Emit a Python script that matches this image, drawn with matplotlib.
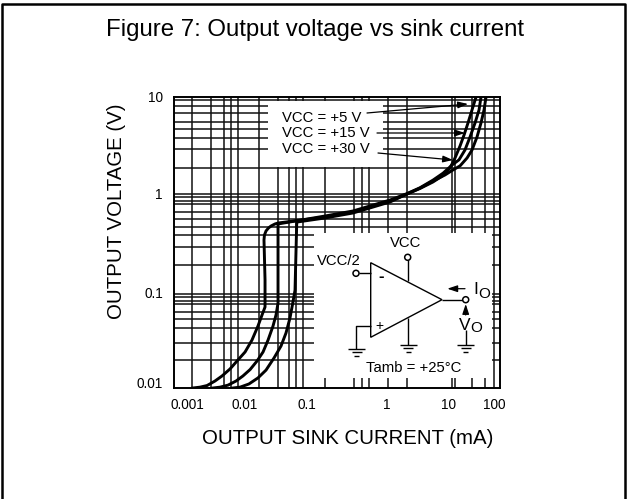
import matplotlib
matplotlib.use('Agg')
import matplotlib.pyplot as plt
from matplotlib.patches import Rectangle, Circle, Polygon

plt.rcParams['font.family'] = ['Liberation Sans', 'DejaVu Sans']

W, H = 629, 499

# grid lines (they are not quite regular)
grid_x = [0.00189, 0.00369, 0.00585, 0.00736, 0.0096, 0.0201, 0.0394, 0.0581, 0.0751, 0.0962,
          0.207, 0.577, 0.764, 0.98, 1.91, 3.75, 18.5, 20.5, 37.2, 58.9, 80.9]
grid_y = [9.31, 8.07, 6.84, 5.52, 4.68, 3.78, 2.91, 1.85, 1.0, 0.93, 0.85, 0.79, 0.65, 0.55,
          0.457, 0.378, 0.285, 0.185, 0.093, 0.0867, 0.0789, 0.0734, 0.0608, 0.0514, 0.0416,
          0.0291, 0.0195]

# curves, mA / V
vcc5_i = [0.00195, 0.00250, 0.00321, 0.00425, 0.00545, 0.00722, 0.0096, 0.0123, 0.0157, 0.0194, 0.0224,
          0.0249, 0.0249, 0.0240, 0.0244, 0.0258, 0.0281, 0.0308, 0.0354, 0.0394,
          0.207, 0.556, 2.06, 3.75, 5.93, 9.37, 12.9, 17.1, 20.4, 24.4, 28.1, 32.3, 37.2, 42.9]
vcc5_v = [0.01, 0.0102, 0.0106, 0.0118, 0.0133, 0.0157, 0.0195, 0.0235, 0.0312, 0.0435, 0.0566,
          0.0684, 0.130, 0.336, 0.378, 0.416, 0.446, 0.468, 0.491, 0.502,
          0.579, 0.652, 0.847, 1.0, 1.14, 1.33, 1.53, 1.85, 2.35, 3.13, 4.06, 5.40, 7.35, 10]
vcc15_i = [0.00396, 0.00508, 0.00673, 0.00894, 0.0114, 0.0147, 0.0188, 0.0232, 0.0277, 0.0330, 0.0367,
           0.0394, 0.0394, 0.0394,
           0.207, 0.556, 2.06, 3.75, 5.93, 9.37, 13.4, 18.4, 23.5, 29.0, 34.7, 41.4, 47.7, 51.1]
vcc15_v = [0.01, 0.0102, 0.0107, 0.0118, 0.0133, 0.0155, 0.0190, 0.0235, 0.0312, 0.0435, 0.0566,
           0.0752, 0.336, 0.491,
           0.593, 0.668, 0.867, 1.01, 1.16, 1.39, 1.64, 1.99, 2.25, 2.84, 3.87, 5.40, 7.35, 10]
vcc30_i = [0.00803, 0.0103, 0.0141, 0.0194, 0.0258, 0.0342, 0.0438, 0.0522, 0.0601, 0.0668, 0.0718,
           0.0762, 0.0771,
           0.207, 0.556, 2.06, 3.75, 5.93, 9.37, 14.3, 19.0, 24.4, 31.2, 37.2, 44.4, 51.1, 56.9, 61]
vcc30_v = [0.01, 0.0102, 0.0110, 0.0127, 0.0153, 0.0204, 0.0271, 0.0369, 0.0527, 0.0771, 0.102,
           0.491, 0.514,
           0.566, 0.637, 0.828, 1.0, 1.15, 1.36, 1.57, 1.77, 1.95, 2.35, 2.84, 3.87, 5.40, 7.35, 10]

fig = plt.figure(figsize=(W / 100, H / 100), dpi=100)

ax = fig.add_axes([174 / W, (H - 388) / H, 326 / W, 291 / H])
ax.set_xscale('log')
ax.set_yscale('log')
ax.set_xlim(0.001, 100)
ax.set_ylim(0.01, 10)
ax.vlines(grid_x, 0.01, 10, color='#111111', lw=1.1, zorder=1)
ax.hlines(grid_y, 0.001, 100, color='#111111', lw=1.1, zorder=1)
for cur, volt in [(vcc5_i, vcc5_v), (vcc15_i, vcc15_v), (vcc30_i, vcc30_v)]:
    ax.plot(cur, volt, color='black', lw=2.1, solid_joinstyle='round', zorder=3)
ax.set_xticks([])
ax.set_yticks([])
ax.minorticks_off()
for s in ax.spines.values():
    s.set_linewidth(1.4)

# overlay in pixel coordinates for the frame, text and the schematic
ov = fig.add_axes([0, 0, 1, 1], facecolor='none')
ov.set_xlim(0, W)
ov.set_ylim(H, 0)
ov.axis('off')

ov.plot([1.5, 1.5, 624.5, 624.5], [H, 4, 4, H], color='black', lw=1.8, clip_on=False)

ov.add_patch(Rectangle((268, 101), 115, 66, fc='white', ec='none', zorder=2))
ov.add_patch(Rectangle((314, 233), 178, 145, fc='white', ec='none', zorder=2))


def txt(x, y, s, size=10.7, ha='center', **kw):
    ov.text(x, y, s, fontsize=size, ha=ha, va='center', color='black', zorder=5, **kw)


def wire(xs, ys, lw=1.0):
    ov.plot(xs, ys, color='black', lw=lw, zorder=4, solid_capstyle='butt')


def arrow(x0, y0, x1, y1):
    ov.annotate('', xy=(x1, y1), xytext=(x0, y0), zorder=4,
                arrowprops=dict(arrowstyle='-|>,head_length=0.6,head_width=0.2', color='black', lw=0.9,
                                shrinkA=0, shrinkB=0))


def ground(x, y):
    wire([x - 8.5, x + 8.5], [y, y])
    wire([x - 5, x + 5], [y + 3.3, y + 3.3])
    wire([x - 2.5, x + 2.5], [y + 6.6, y + 6.6])


def node(x, y):
    ov.add_patch(Circle((x, y), 3, fc='white', ec='black', lw=1.1, zorder=5))


txt(315.5, 30, 'Figure 7: Output voltage vs sink current', size=17.3)
txt(348, 438, 'OUTPUT SINK CURRENT (mA)', size=14.7)
txt(117, 211, 'OUTPUT VOLTAGE (V)', size=14.7, rotation=90)

for x, s in zip([187, 245, 307, 387, 449, 494], ['0.001', '0.01', '0.1', '1', '10', '100']):
    txt(x, 405, s, size=9.8)
for y, s in zip([98, 195, 294, 384], ['10', '1', '0.1', '0.01']):
    txt(163, y, s, size=9.8, ha='right')

txt(282, 118, 'VCC = +5 V', ha='left')
txt(282, 133, 'VCC = +15 V', ha='left')
txt(282, 149, 'VCC = +30 V', ha='left')
arrow(367, 113, 468, 104)
arrow(377, 133, 465, 133)
arrow(378, 153, 453, 160)

# op amp schematic
ov.add_patch(Polygon([(370.7, 262.7), (370.7, 337.3), (442, 299.7)], closed=True, fc='white', ec='black',
                     lw=1.0, zorder=4))
wire([407.7, 407.7], [260, 281])
node(407.7, 257.3)
wire([408, 408], [318, 345])
ground(408, 345)
wire([359, 370.7], [273.3, 273.3])
node(356, 273.3)
wire([370.7, 355.7, 355.7], [326, 326, 349])
ground(356.5, 349)
wire([442, 463], [299.7, 299.7])
node(465.7, 299.7)
wire([465.7, 465.7], [330, 345])
ground(465.7, 345)
arrow(465.7, 315, 465.7, 304)
arrow(465, 288.7, 447.3, 288.7)

txt(406, 243, 'VCC')
txt(317, 261, 'VCC/2', ha='left')
txt(380.7, 276, '-', size=12, fontweight='bold')
txt(379, 326, '+', size=10)
txt(476, 289, 'I', size=12.5)
txt(484, 294, 'O', size=11)
txt(465, 325, 'V', size=12.5)
txt(476, 328, 'O', size=11)
txt(414, 368, 'Tamb = +25°C')

fig.savefig('out.png', dpi=100)
